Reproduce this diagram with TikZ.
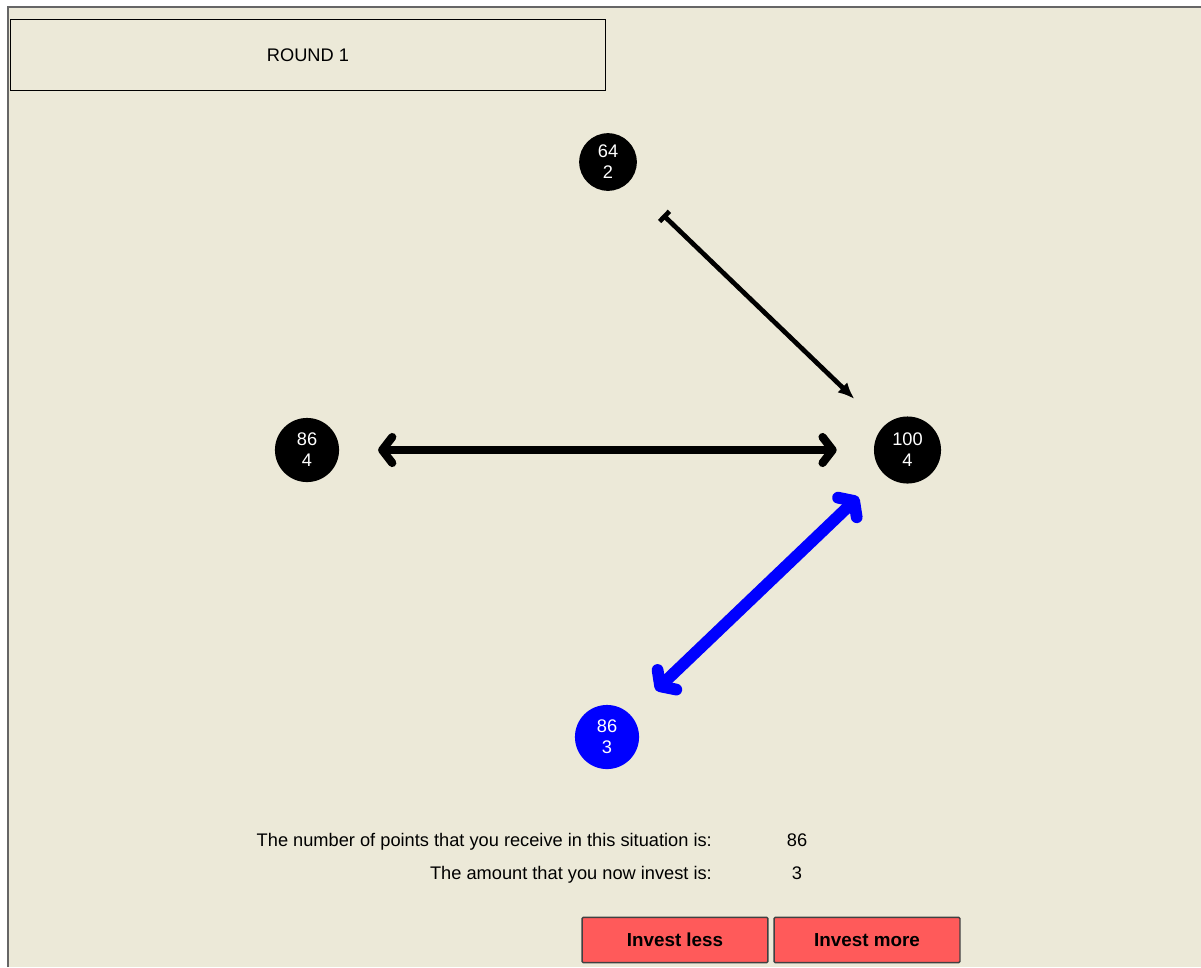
\documentclass[tikz,border=0pt]{standalone}
\usepackage{fontspec}
\setmainfont{Liberation Sans}
\usetikzlibrary{arrows.meta}
\definecolor{panel}{HTML}{ECE9D8}
\definecolor{btnred}{HTML}{FF5A5A}

\begin{document}
\begin{tikzpicture}[x=0.85pt,y=-0.85pt]

\tikzset{vertex/.style = {shape=circle,fill=black,text=white,inner sep=0pt,align=center,font=\fontsize{15.5}{18}\selectfont}}
\tikzset{edge/.style = {line cap=round,line join=round}}
\tikzset{button/.style = {draw=black!75,fill=btnred,line width=1.2pt,rounded corners=1pt,minimum width=158pt,minimum height=38.5pt,font=\fontsize{16}{18}\bfseries\selectfont}}
\tikzset{info/.style = {font=\fontsize{15.5}{18}\selectfont}}

\useasboundingbox (0,0) rectangle (1201,967);
\fill[white] (0,0) rectangle (1201,967);
\fill[panel] (7,6) rectangle (1201,967);
\draw[gray!80!black, line width=1.7pt] (7.8,967) -- (7.8,6.8) -- (1201,6.8);

%title
\node[draw, line width=0.8pt, minimum width=505pt, minimum height=61pt, font=\fontsize{15.5}{18}\selectfont] (title) at (308,55) {ROUND 1};

%verticies
\node[vertex, minimum size=49pt] (a) at (608,162) {64\\2};
\node[vertex, minimum size=54.5pt] (b) at (307,450) {86\\4};
\node[vertex, minimum size=57pt] (c) at (907.5,450) {100\\4};
\node[vertex, minimum size=54.5pt, fill=blue] (me) at (607,737) {86\\3};

%edges
\draw[edge, line width=4pt, {Bar[width=12pt]}-{Latex[length=14pt,width=12pt]}, shorten <=40pt, shorten >=34pt] (a) -- (c);
\draw[edge, line width=7pt, {Straight Barb[round,length=8.5pt,width=22pt]}-{Straight Barb[round,length=8.5pt,width=22pt]}, shorten <=33pt, shorten >=31.5pt] (b) -- (c);
\draw[edge, blue, line width=10pt, {Straight Barb[round,length=8pt,width=23pt]}-{Straight Barb[round,length=8pt,width=23pt]}, shorten <=30pt, shorten >=29pt] (me) -- (c);

%info
\node[info, anchor=base east] (q1) at (716,846) {The number of points that you receive in this situation is:};
\node[info, anchor=base] (v1) at (797,846) {86};
\node[info, anchor=base east] (q2) at (716,879) {The amount that you now invest is:};
\node[info, anchor=base] (v2) at (797,879) {3};

%buttons
\node[button] (less) at (675,940) {Invest less};
\node[button] (more) at (867,940) {Invest more};

\end{tikzpicture}
\end{document}
